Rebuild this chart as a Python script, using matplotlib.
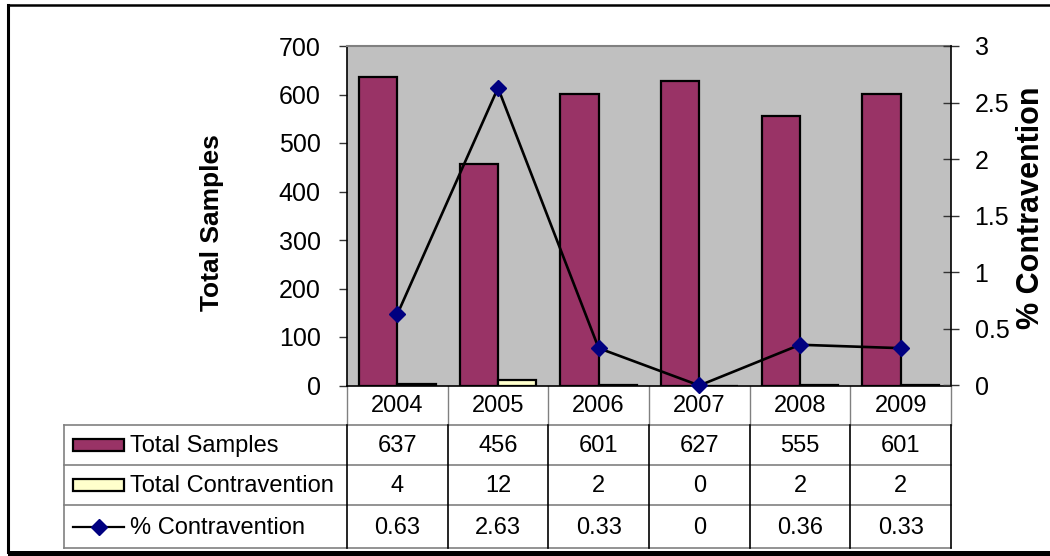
import matplotlib
matplotlib.use('Agg')
import matplotlib.pyplot as plt
import matplotlib.patches as mpatches
from matplotlib.lines import Line2D

# Data
years = ['2004', '2005', '2006', '2007', '2008', '2009']
total_samples = [637, 456, 601, 627, 555, 601]
total_contravention = [4, 12, 2, 0, 2, 2]
pct_contravention = [0.63, 2.63, 0.33, 0, 0.36, 0.33]

row_labels = ['Total Samples', 'Total Contravention', '% Contravention']

PURPLE = '#993366'
CREAM = '#FFFFCC'
NAVY = '#000080'
GREY = '#C0C0C0'

plt.rcParams['font.family'] = ['Liberation Sans', 'DejaVu Sans']

W, H = 1050, 556
fig = plt.figure(figsize=(W / 100, H / 100), dpi=100)
fig.patch.set_facecolor('white')

# Main plot area
ax = fig.add_axes([347 / W, 1 - 385.5 / H, 604 / W, 339.5 / H])
ax.set_facecolor(GREY)
x = list(range(len(years)))
bw = 0.38
ax.bar([i - bw / 2 for i in x], total_samples, width=bw, color=PURPLE,
       edgecolor='black', linewidth=1.6, zorder=2)
ax.bar([i + bw / 2 for i in x], total_contravention, width=bw, color=CREAM,
       edgecolor='black', linewidth=1.6, zorder=2)
ax.set_xlim(-0.5, len(years) - 0.5)
ax.set_ylim(0, 700)
ax.set_yticks(range(0, 701, 100))
ax.set_xticks([])
ax.tick_params(axis='y', direction='out', length=6, width=1, labelsize=18,
               pad=13, color='#333333')
for s in ['left', 'bottom']:
    ax.spines[s].set_color('black')
    ax.spines[s].set_linewidth(1.2)
ax.spines['top'].set_color('#808080')
ax.spines['top'].set_linewidth(1.5)
ax.spines['right'].set_visible(False)
ax.set_ylabel('Total Samples', fontsize=19, fontweight='bold')
ax.yaxis.set_label_coords(-0.204, 0.48)

ax2 = ax.twinx()
ax2.plot(x, pct_contravention, color='black', linewidth=1.9, marker='D',
         markersize=8, markerfacecolor=NAVY, markeredgecolor=NAVY,
         clip_on=False, zorder=3)
ax2.set_ylim(0, 3)
ax2.set_yticks([0, 0.5, 1, 1.5, 2, 2.5, 3])
ax2.set_yticklabels(['0', '0.5', '1', '1.5', '2', '2.5', '3'])
ax2.tick_params(axis='y', direction='inout', length=12, width=1, labelsize=18,
                pad=11, color='#333333')
ax2.spines['right'].set_color('black')
ax2.spines['right'].set_linewidth(1.2)
for s in ['left', 'top', 'bottom']:
    ax2.spines[s].set_visible(False)
ax2.set_ylabel('% Contravention', fontsize=22, fontweight='bold')
ax2.yaxis.set_label_coords(1.108, 0.525)

# Overlay in pixel coords for the data table and frame
fig.canvas.draw()
ov = fig.add_axes([0, 0, 1, 1], zorder=-1)
ov.set_xlim(0, W)
ov.set_ylim(H, 0)
ov.axis('off')


def col_px(v):
    return ax.transData.transform((v, 0))[0]


edges = [col_px(i - 0.5) for i in range(len(years) + 1)]
label_left = 64
row_y = [385.5, 425, 465, 505, 548]
tab_fs = 17
grid_c = '#808080'

# Header row (years)
for i, yr in enumerate(years):
    ov.text((edges[i] + edges[i + 1]) / 2, (row_y[0] + row_y[1]) / 2 + 1, yr,
            ha='center', va='center', fontsize=tab_fs)
for e in edges:
    ov.plot([e, e], [row_y[0], row_y[1]], color=grid_c, lw=1)

# Horizontal lines
for yl in row_y[1:]:
    ov.plot([label_left, edges[-1]], [yl, yl], color=grid_c, lw=1.2)
ov.plot([label_left, label_left], [row_y[1], row_y[4]], color=grid_c, lw=1.2)
for e in edges:
    ov.plot([e, e], [row_y[1], row_y[4]], color='black', lw=1.2)

rows = [total_samples, total_contravention, pct_contravention]
for r, vals in enumerate(rows):
    yc = (row_y[r + 1] + row_y[r + 2]) / 2 + 1
    for i, v in enumerate(vals):
        ov.text((edges[i] + edges[i + 1]) / 2, yc, f'{v:g}',
                ha='center', va='center', fontsize=tab_fs)
    ov.text(130, yc, row_labels[r], ha='left', va='center', fontsize=tab_fs)

# Legend keys in the table
for r, c in enumerate([PURPLE, CREAM]):
    yc = (row_y[r + 1] + row_y[r + 2]) / 2
    ov.add_patch(mpatches.Rectangle((73, yc - 6), 51, 12, facecolor=c,
                                    edgecolor='black', linewidth=1.6))
yc = (row_y[3] + row_y[4]) / 2
ov.add_line(Line2D([73, 124], [yc, yc], color='black', lw=1.6))
ov.plot([98.5], [yc], marker='D', markersize=8, color=NAVY)

# Outer chart frame (cropped on the right)
ov.plot([8, 8], [5, 552], color='black', lw=2.2)
ov.plot([8, W], [5, 5], color='black', lw=1.8)
ov.add_patch(mpatches.Rectangle((8, 550.5), W, 6, facecolor='black',
                                edgecolor='none'))

fig.savefig('out.png', dpi=100, facecolor='white')
